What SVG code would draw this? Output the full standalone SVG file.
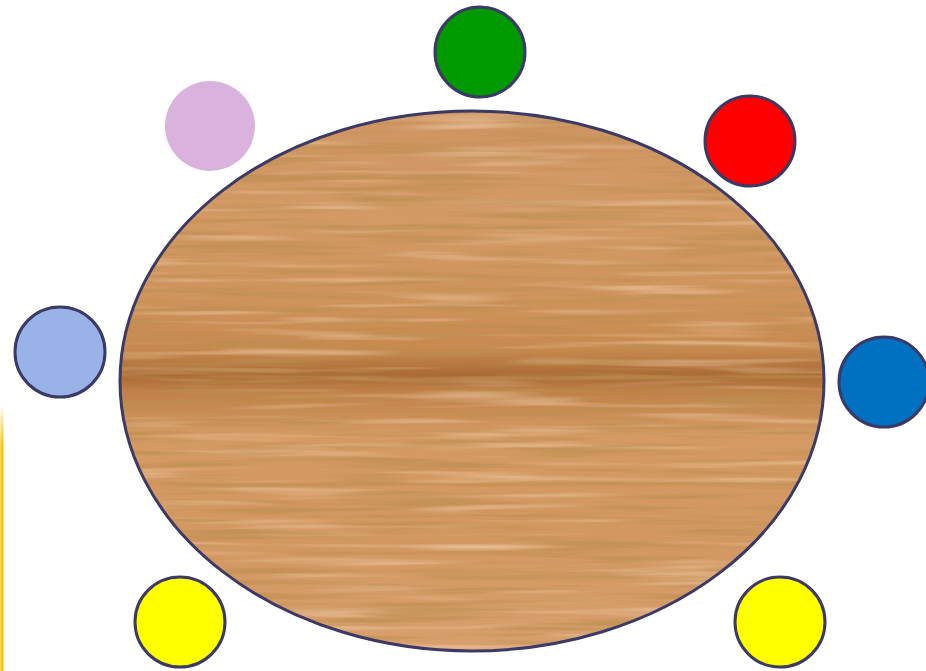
<svg xmlns="http://www.w3.org/2000/svg" width="926" height="671" viewBox="0 0 926 671">
<style>
.seat{stroke:#3b3a67;stroke-width:3}
</style>
<defs>
<linearGradient id="wood" x1="0" y1="0" x2="0" y2="1">
<stop offset="0" stop-color="#cf9462"/>
<stop offset="0.2" stop-color="#d39a66"/>
<stop offset="0.35" stop-color="#cf935c"/>
<stop offset="0.44" stop-color="#c8894f"/>
<stop offset="0.49" stop-color="#a96a35"/>
<stop offset="0.52" stop-color="#c08048"/>
<stop offset="0.6" stop-color="#d59a64"/>
<stop offset="0.8" stop-color="#d39862"/>
<stop offset="1" stop-color="#d8a06e"/>
</linearGradient>
<linearGradient id="yl" x1="0" y1="0" x2="0" y2="1">
<stop offset="0" stop-color="#ffc000" stop-opacity="0"/>
<stop offset="0.15" stop-color="#ffc000"/>
<stop offset="1" stop-color="#ffc000"/>
</linearGradient>
<clipPath id="tc"><ellipse cx="472" cy="381" rx="352" ry="270"/></clipPath>
<filter id="grain" x="0" y="0" width="1" height="1">
<feTurbulence type="fractalNoise" baseFrequency="0.006 0.16" numOctaves="3" seed="7"/>
<feColorMatrix type="matrix" values="0 0 0 0 0.5  0 0 0 0 0.27  0 0 0 0 0.08  0 0 0 -3.5 1.9"/>
</filter>
<filter id="light" x="0" y="0" width="1" height="1">
<feTurbulence type="fractalNoise" baseFrequency="0.005 0.12" numOctaves="2" seed="13"/>
<feColorMatrix type="matrix" values="0 0 0 0 0.95  0 0 0 0 0.75  0 0 0 0 0.55  0 0 0 3 -1.6"/>
</filter>
</defs>
<rect x="0" y="0" width="926" height="671" fill="#ffffff"/>
<rect x="0.5" y="405" width="3" height="266" fill="url(#yl)"/>
<g id="table">
<ellipse cx="472" cy="381" rx="352" ry="270" fill="url(#wood)"/>
<g clip-path="url(#tc)">
<rect x="120" y="111" width="704" height="540" filter="url(#light)" opacity="0.5"/>
<rect x="120" y="111" width="704" height="540" filter="url(#grain)" opacity="0.65"/>
</g>
<ellipse cx="472" cy="381" rx="352" ry="270" fill="none" stroke="#3b3a67" stroke-width="3"/>
</g>
<g id="seat-green"><circle class="seat" cx="480" cy="52" r="45" fill="#009900"/></g>
<g id="seat-red"><circle class="seat" cx="750" cy="141" r="45" fill="#ff0000"/></g>
<g id="seat-pink"><circle cx="210" cy="126" r="45" fill="#d9b3dd"/></g>
<g id="seat-lightblue"><circle class="seat" cx="60" cy="352" r="45" fill="#99b3e8"/></g>
<g id="seat-blue"><circle class="seat" cx="884" cy="382" r="45" fill="#0070c0"/></g>
<g id="seat-yellow-left"><circle class="seat" cx="180" cy="622" r="45" fill="#ffff00"/></g>
<g id="seat-yellow-right"><circle class="seat" cx="780" cy="622" r="45" fill="#ffff00"/></g>
<g id="connectors"></g>
</svg>
